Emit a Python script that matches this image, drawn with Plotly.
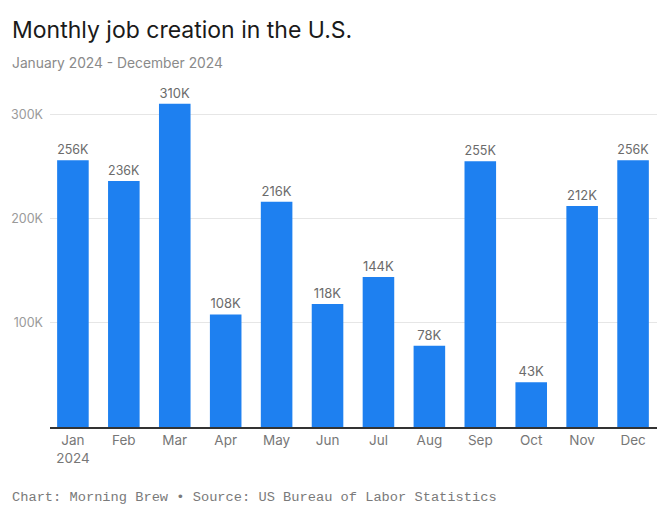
import plotly.graph_objects as go

months = ["Jan<br>2024", "Feb", "Mar", "Apr", "May", "Jun", "Jul", "Aug", "Sep", "Oct", "Nov", "Dec"]
jobs_k = [256, 236, 310, 108, 216, 118, 144, 78, 255, 43, 212, 256]
ytick_vals = [100, 200, 300]
ytick_text = ["100K", "200K", "300K"]

W, H = 668, 517
ml, mr, mt, mb = 50, 11, 83, 90
pw, ph = W - ml - mr, H - mt - mb


def px(x):
    return (x - ml) / pw


def py(y):
    return (H - mb - y) / ph


fig = go.Figure(go.Bar(
    x=list(range(len(months))),
    y=jobs_k,
    marker=dict(color="#1E80F0", line=dict(width=0)),
    width=0.62,
    text=[f"{v}K" for v in jobs_k],
    textposition="outside",
    textfont=dict(family="Inter, Roboto, sans-serif", size=13, color="#6b6b6b"),
    cliponaxis=False,
    hoverinfo="skip",
))

fig.update_layout(
    width=W, height=H,
    margin=dict(l=ml, r=mr, t=mt, b=mb),
    paper_bgcolor="white", plot_bgcolor="white",
    showlegend=False,
    font=dict(family="Inter, Roboto, sans-serif"),
    xaxis=dict(
        tickmode="array",
        tickvals=list(range(len(months))),
        ticktext=months,
        range=[-0.45, 11.47],
        showgrid=False,
        showline=True, linecolor="#333333", linewidth=1.5,
        ticks="",
        tickfont=dict(size=13.5, color="#777777"),
        fixedrange=True,
    ),
    yaxis=dict(
        range=[0, 330],
        tickmode="array",
        tickvals=ytick_vals,
        ticktext=ytick_text,
        showgrid=True, gridcolor="#e6e6e6", gridwidth=1,
        zeroline=False,
        showline=False,
        ticks="",
        ticklabelstandoff=6,
        tickfont=dict(size=12.5, color="#9a9a9a"),
        fixedrange=True,
    ),
    annotations=[
        dict(text="Monthly job creation in the U.S.", x=px(10), y=py(30),
             xref="paper", yref="paper", xanchor="left", yanchor="middle",
             showarrow=False, font=dict(family="Inter, sans-serif", size=23, color="#1a1a1a")),
        dict(text="January 2024 - December 2024", x=px(10), y=py(63),
             xref="paper", yref="paper", xanchor="left", yanchor="middle",
             showarrow=False, font=dict(family="Inter, sans-serif", size=13.8, color="#8a8a8a")),
        dict(text="Chart: Morning Brew \u2022 Source: US Bureau of Labor Statistics", x=px(10), y=py(497),
             xref="paper", yref="paper", xanchor="left", yanchor="middle",
             showarrow=False, font=dict(family="Liberation Mono, DejaVu Sans Mono, monospace", size=13.7, color="#7a7a7a")),
    ],
)

fig.write_html("out.html", config={"displayModeBar": False},
               post_script="document.body.style.margin='0';document.body.style.padding='0';")
